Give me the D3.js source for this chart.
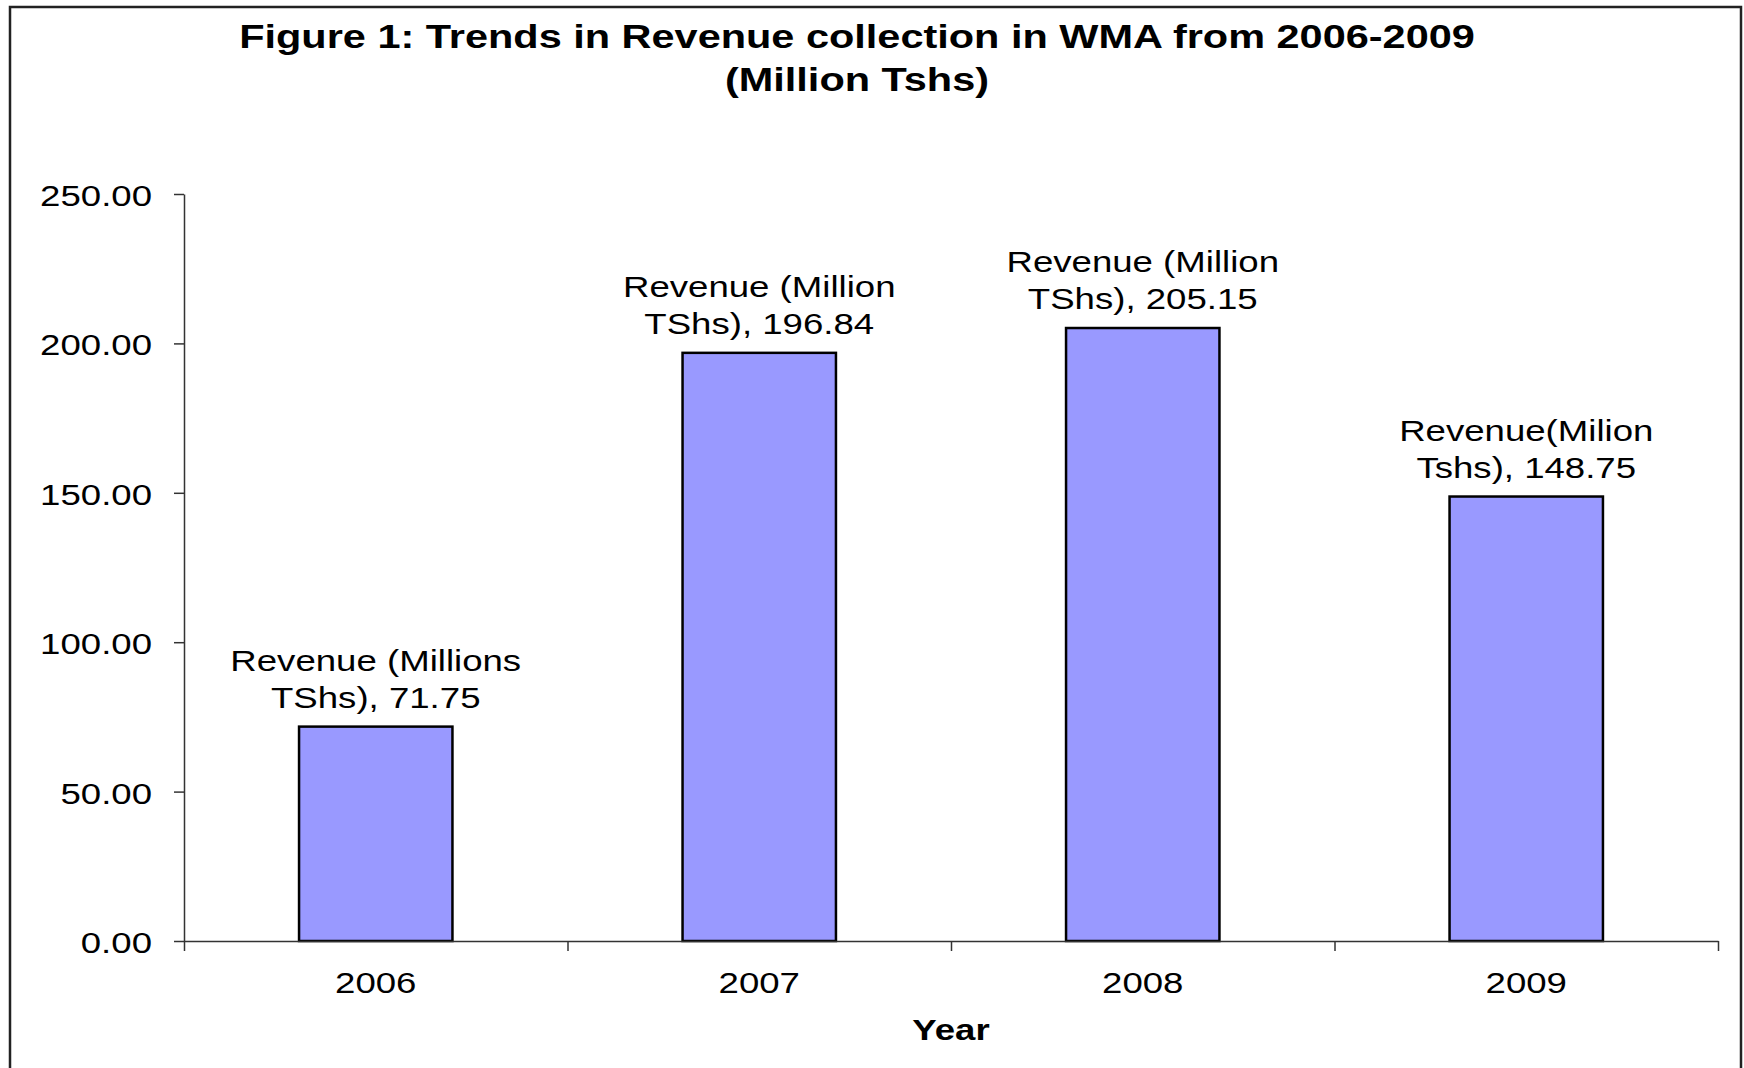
<!DOCTYPE html>
<html>
<head>
<meta charset="utf-8">
<script src="https://cdn.jsdelivr.net/npm/d3@7"></script>
<style>
  body { margin: 0; background: #fff; }
  text { font-family: "Liberation Sans", Arial, sans-serif; fill: #000; }
</style>
</head>
<body>
<div id="chart"></div>
<script>
var years = ["2006", "2007", "2008", "2009"];
var revenue = [71.75, 196.84, 205.15, 148.75];
var labelTop = ["Revenue (Millions", "Revenue (Million", "Revenue (Million", "Revenue(Milion"];
var labelUnit = ["TShs)", "TShs)", "TShs)", "Tshs)"];
var yTicks = [0, 50, 100, 150, 200, 250];

var width = 1744, height = 1068;
var margins = {top: 194, right: 26, bottom: 127, left: 184};
var sx = 1.22; // glyphs in the original are stretched sideways

var data = years.map(function(y, i) {
    return {year: y, value: revenue[i], l1: labelTop[i], l2: labelUnit[i] + ", " + revenue[i].toFixed(2)};
});

// move x/y into a transform so the horizontal stretch keeps the anchor in place
function stretch(sel) {
    sel.each(function() {
        var t = d3.select(this);
        var x = +t.attr("x") || 0, y = +t.attr("y") || 0;
        t.attr("x", 0).attr("y", 0)
            .attr("transform", "translate(" + x + "," + y + ") scale(" + sx + ",1)");
    });
}

var svg = d3.select("#chart").append("svg")
    .attr("width", width).attr("height", height)
    .attr("viewBox", [0, 0, width, height]);

svg.append("rect")
    .attr("x", 10).attr("y", 7)
    .attr("width", 1731).attr("height", 1100)
    .attr("fill", "none")
    .attr("stroke", "#222")
    .attr("stroke-width", 2.5);

var x = d3.scaleBand()
    .domain(years)
    .range([margins.left, width - margins.right])
    .paddingInner(0.6)
    .paddingOuter(0.3);

var y = d3.scaleLinear()
    .domain([0, 250])
    .range([height - margins.bottom, margins.top]);

// category boundaries for the x tick marks
var xb = d3.scaleLinear()
    .domain([0, years.length])
    .range([margins.left, width - margins.right]);

// title
svg.append("text")
    .attr("x", 857).attr("y", 48)
    .attr("text-anchor", "middle")
    .attr("font-size", "34px")
    .attr("font-weight", "bold")
    .text("Figure 1: Trends in Revenue collection in WMA from 2006-2009")
    .call(stretch);

svg.append("text")
    .attr("x", 857).attr("y", 91)
    .attr("text-anchor", "middle")
    .attr("font-size", "34px")
    .attr("font-weight", "bold")
    .text("(Million Tshs)")
    .call(stretch);

// bars
svg.append("g").selectAll("rect")
    .data(data)
    .enter().append("rect")
    .attr("x", d => x(d.year))
    .attr("y", d => y(d.value))
    .attr("width", x.bandwidth())
    .attr("height", d => y(0) - y(d.value))
    .attr("fill", "#9999ff")
    .attr("stroke", "#000")
    .attr("stroke-width", 2.5);

// y axis
var yAxis = svg.append("g")
    .attr("class", "y-axis")
    .attr("transform", "translate(" + margins.left + ",0)")
    .call(d3.axisLeft(y).tickValues(yTicks).tickFormat(d3.format(".2f"))
        .tickSize(10).tickSizeOuter(0).tickPadding(22));
yAxis.selectAll("text")
    .attr("font-size", "30px")
    .attr("font-family", null)
    .attr("dy", "0.38em")
    .call(stretch);

// x axis: marks at category boundaries, labels at centers
var xAxis = svg.append("g")
    .attr("class", "x-axis")
    .attr("transform", "translate(0," + y(0) + ")")
    .call(d3.axisBottom(xb).tickValues(d3.range(years.length + 1)).tickFormat("")
        .tickSize(10).tickSizeOuter(0));

var xLabels = svg.append("g")
    .attr("transform", "translate(0," + y(0) + ")")
    .call(d3.axisBottom(x).tickSize(0).tickPadding(31));
xLabels.select(".domain").remove();
xLabels.selectAll("text")
    .attr("font-size", "30px")
    .attr("font-family", null)
    .attr("dy", "0.71em")
    .call(stretch);

svg.selectAll(".domain, .tick line")
    .attr("stroke", "#333")
    .attr("stroke-width", 1.5);

svg.append("text")
    .attr("x", (margins.left + width - margins.right) / 2)
    .attr("y", 1040)
    .attr("text-anchor", "middle")
    .attr("font-size", "30px")
    .attr("font-weight", "bold")
    .text("Year")
    .call(stretch);

// data labels
var lab = svg.append("g").selectAll("g")
    .data(data)
    .enter().append("g");

lab.append("text")
    .attr("x", d => x(d.year) + x.bandwidth() / 2)
    .attr("y", d => y(d.value) - 56)
    .attr("text-anchor", "middle")
    .attr("font-size", "30px")
    .text(d => d.l1)
    .call(stretch);

lab.append("text")
    .attr("x", d => x(d.year) + x.bandwidth() / 2)
    .attr("y", d => y(d.value) - 19)
    .attr("text-anchor", "middle")
    .attr("font-size", "30px")
    .text(d => d.l2)
    .call(stretch);
</script>
</body>
</html>
